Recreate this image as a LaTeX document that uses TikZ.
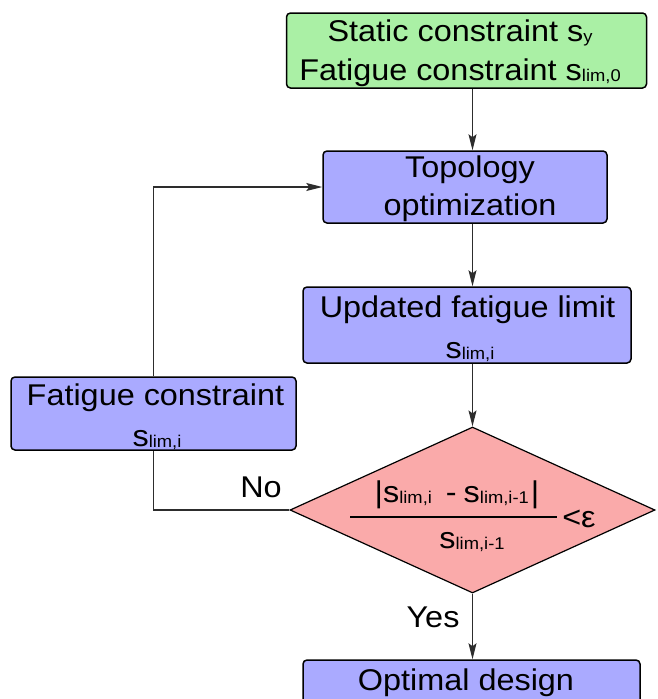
\documentclass[tikz,border=0pt]{standalone}
\usepackage{fontspec}
\setmainfont[FakeStretch=1.08]{Liberation Sans}
\usetikzlibrary{shapes.geometric,arrows.meta}
\newcommand{\lsub}[1]{\raisebox{-1.5pt}{\fontsize{17}{17}\selectfont #1}}
\definecolor{boxgreen}{RGB}{170,240,165}
\definecolor{boxblue}{RGB}{170,170,255}
\definecolor{boxpink}{RGB}{250,170,170}
\definecolor{linegray}{RGB}{45,45,45}
\tikzset{
  flowbox/.style={draw=black, line width=1.5pt, rounded corners=4pt, inner sep=0pt},
  txt/.style={anchor=base, inner sep=0pt, font=\fontsize{30}{36}\selectfont},
  conn/.style={draw=linegray, line width=1.2pt},
  arr/.style={conn, -{Stealth[length=16pt,width=8pt,inset=3pt]}},
}
\begin{document}
\begin{tikzpicture}[x=1pt,y=-1pt]
\useasboundingbox (0,0) rectangle (657,699);
\clip (0,0) rectangle (657,699);
% boxes
\node[flowbox, fill=boxgreen, minimum width=360pt, minimum height=75pt] (green) at (466.5,50.5) {};
\node[flowbox, fill=boxblue, minimum width=284pt, minimum height=72pt] (topo) at (465,187) {};
\node[flowbox, fill=boxblue, minimum width=328pt, minimum height=76pt] (upd) at (467,325) {};
\node[flowbox, fill=boxblue, minimum width=285pt, minimum height=73pt] (fat) at (153.5,413.5) {};
\node[draw=black, line width=1.2pt, fill=boxpink, diamond, aspect=2.2, inner sep=0pt, minimum width=365pt, minimum height=166pt] (dia) at (472.5,510) {};
\node[flowbox, fill=boxblue, minimum width=337pt, minimum height=70pt] (opt) at (471.5,695) {};
% texts
\node[txt] (t1) at (460,41) {Static constraint s\lsub{y}};
\node[txt] (t2) at (460,80) {Fatigue constraint s\lsub{lim,0}};
\node[txt] (t3) at (470,177) {Topology};
\node[txt] (t4) at (470,215) {optimization};
\node[txt] (t5) at (467.5,317) {Updated fatigue limit};
\node[txt] (t6) at (470,358) {s\lsub{lim,i}};
\node[txt] (t7) at (155.5,405) {Fatigue constraint};
\node[txt] (t8) at (157,446) {s\lsub{lim,i}};
\node[txt] (t9) at (457,502) {|s\lsub{lim,i}\hspace{14pt}-\hspace{7pt}s\lsub{lim,i-1}\hspace{2pt}|};
\node[txt] (t10) at (472,548) {s\lsub{lim,i-1}};
\node[txt] (t11) at (579,527) {<ε};
\node[txt] (no) at (261,497) {No};
\node[txt] (yes) at (433,627) {Yes};
\node[txt] (t12) at (466,690) {Optimal design};
% fraction line
\coordinate (fl) at (350,517);
\coordinate (fr) at (557,517);
\draw[line width=1.4pt, black] (fl) -- (fr);
% connectors
\draw[arr] (green.south -| dia.north) -- (topo.north -| dia.north);
\draw[arr] (topo.south -| dia.north) -- (upd.north -| dia.north);
\draw[arr] (upd.south -| dia.north) -- (dia.north);
\draw[arr] (dia.south) -- (opt.north -| dia.south);
\draw[conn] (dia.west) -- (dia.west -| fat.south) -- (fat.south);
\draw[arr] (fat.north) -- (fat.north |- topo.west) -- (topo.west);
\end{tikzpicture}
\end{document}
